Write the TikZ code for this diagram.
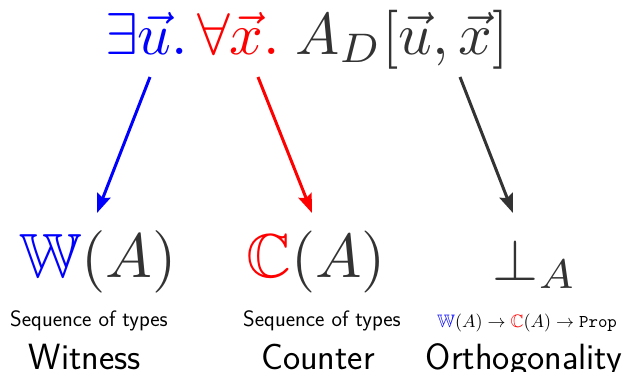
\documentclass[tikz,border=0pt]{standalone}
\usepackage{amssymb}
\usepackage{fontspec}
\usetikzlibrary{arrows.meta}
\definecolor{ink}{HTML}{333333}
\tikzset{
  big/.style={inner sep=0pt, outer sep=0pt, anchor=base},
  lbl/.style={inner sep=0pt, anchor=base, text=black, font=\sffamily},
  arr/.style={line width=3pt, -{Stealth[length=19pt,width=14pt,inset=3pt]}}
}
\begin{document}
\begin{tikzpicture}[x=1pt,y=-1pt]
\useasboundingbox (0,0) rectangle (622,372);
% top formula
\node[big, anchor=base west, text=blue] (ex) at (105,54) {\scalebox{5.9}{$\exists\vec u.$}};
\node[big, anchor=base west, text=red] (fa) at (197,54) {\scalebox{5.9}{$\forall\vec x.$}};
\node[big, anchor=base west, text=ink] (ad) at (295,54) {\scalebox{5.9}{$A_D[\vec u,\vec x]$}};
% middle
\node[big] (w) at (98,277) {\scalebox{6.25}{$\textcolor{blue}{\mathbb{W}}\textcolor{ink}{(A)}$}};
\node[big] (c) at (316,277) {\scalebox{6.2}{$\textcolor{red}{\mathbb{C}}\textcolor{ink}{(A)}$}};
\node[big, text=ink] (o) at (535,280) {\scalebox{5.9}{$\perp_A$}};
% arrows
\coordinate (e1) at (150,77);
\coordinate (e2) at (97,213);
\coordinate (r1) at (258,77);
\coordinate (r2) at (312,213);
\coordinate (k1) at (460,77);
\coordinate (k2) at (513,213);
\draw[arr, blue] (e1) -- (e2);
\draw[arr, red] (r1) -- (r2);
\draw[arr, ink] (k1) -- (k2);
% small labels
\node[lbl] (s1) at (89,326) {\fontsize{22.3}{25}\selectfont Sequence of types};
\node[lbl] (s2) at (322,326) {\fontsize{22.3}{25}\selectfont Sequence of types};
\node[big, text=black] (t) at (527,327) {\scalebox{1.8}{$\textcolor{blue}{\mathbb{W}}(A)\to\textcolor{red}{\mathbb{C}}(A)\to\texttt{Prop}$}};
% names
\node[lbl] (n1) at (85,369) {\fontsize{36.5}{40}\selectfont Witness};
\node[lbl] (n2) at (318,369) {\fontsize{36.5}{40}\selectfont Counter};
\node[lbl] (n3) at (524,369) {\fontsize{36.5}{40}\selectfont Orthogonality};
\end{tikzpicture}
\end{document}
